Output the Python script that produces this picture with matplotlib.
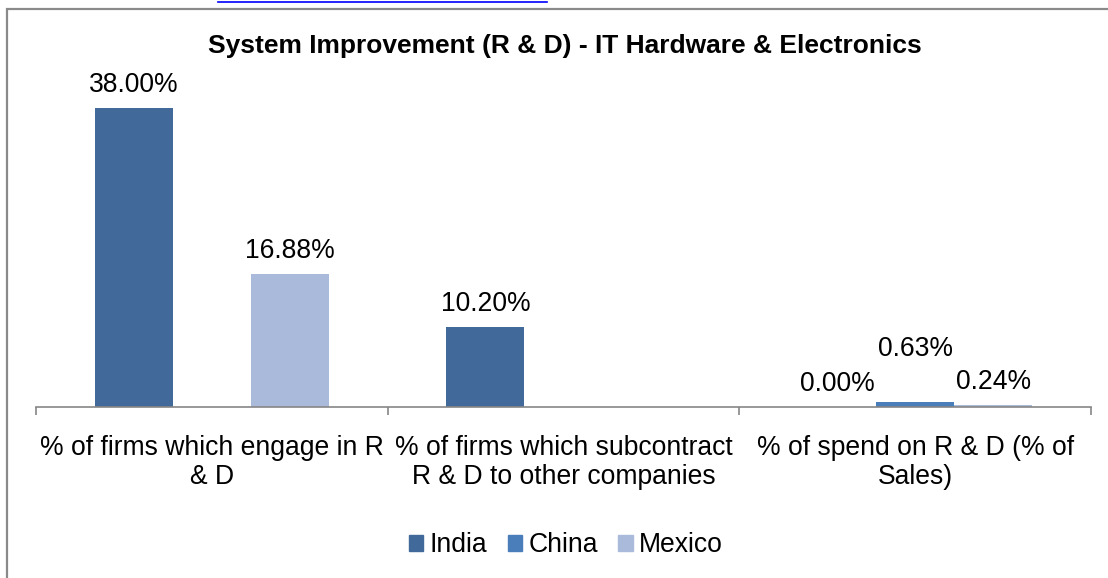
import numpy as np
import matplotlib
matplotlib.use("Agg")
import matplotlib.pyplot as plt
from matplotlib.patches import Rectangle
from matplotlib.lines import Line2D

plt.rcParams["font.family"] = ["Liberation Sans", "DejaVu Sans"]

# Survey results, percent (NaN = no value reported)
categories = ["% of firms which engage in R\n& D",
              "% of firms which subcontract\nR & D to other companies",
              "% of spend on R & D (% of\nSales)"]
india = [38.00, 10.20, 0.00]
china = [np.nan, np.nan, 0.63]
mexico = [16.88, np.nan, 0.24]
series_names = ["India", "China", "Mexico"]
colors = ["#41699A", "#4A7EBB", "#AABADA"]

W, H = 1108, 578
fig = plt.figure(figsize=(W / 100, H / 100), dpi=100)
fs = 19.1

# plot area in pixels: x 36..1091, baseline at y=407, top (40%) at y=92
ax = fig.add_axes([36 / W, (H - 407) / H, 1055 / W, 315 / H])
ax.set_xlim(-0.5, 2.5)
ax.set_ylim(0, 40)

x = np.arange(len(categories))
bar_w = 0.222
for i, (vals, col) in enumerate(zip([india, china, mexico], colors)):
    pos = x + (i - 1) * bar_w
    ax.bar(pos, vals, width=bar_w, color=col, label=series_names[i])
    for px, v in zip(pos, vals):
        if np.isnan(v):
            continue
        # the small China value label sits higher so it does not collide
        extra = 30 if (i == 1 and v < 1) else 0
        ax.annotate(f"{v:.2f}%", (px, v), xytext=(0, 10 + extra),
                    textcoords="offset pixels", ha="center", va="bottom",
                    fontsize=fs, color="black")

for s in ["top", "right", "left"]:
    ax.spines[s].set_visible(False)
ax.spines["bottom"].set_color("#868686")
ax.spines["bottom"].set_linewidth(1.2)
ax.set_yticks([])
ax.set_xticks(x)
ax.set_xticklabels(categories, fontsize=fs, linespacing=1.17)
ax.tick_params(axis="x", which="major", length=0, pad=20)
ax.set_xticks([-0.5, 0.5, 1.5, 2.5], minor=True)
ax.tick_params(axis="x", which="minor", length=6, width=1.2, color="#868686",
               direction="out")

fig.text(565 / W, 1 - 46 / H, "System Improvement (R & D) - IT Hardware & Electronics",
         ha="center", va="center", fontsize=19, fontweight="bold")

handles = [Rectangle((0, 0), 1, 1, color=c) for c in colors]
fig.legend(handles, series_names, loc="center", bbox_to_anchor=(566 / W, 1 - 545 / H),
           ncol=3, frameon=False, fontsize=fs, handlelength=0.55, handleheight=0.55,
           handletextpad=0.25, columnspacing=0.75)

# chart border running off the page
fig.patches.append(Rectangle((7 / W, -0.1), 1.2, (H - 9) / H + 0.1,
                             transform=fig.transFigure, fill=False,
                             edgecolor="#8A8A8A", linewidth=1.6))
fig.lines.append(Line2D([218 / W, 547 / W], [1 - 1.5 / H, 1 - 1.5 / H],
                        transform=fig.transFigure, color="#0000FF", linewidth=1.2))

fig.savefig("out.png", dpi=100)
